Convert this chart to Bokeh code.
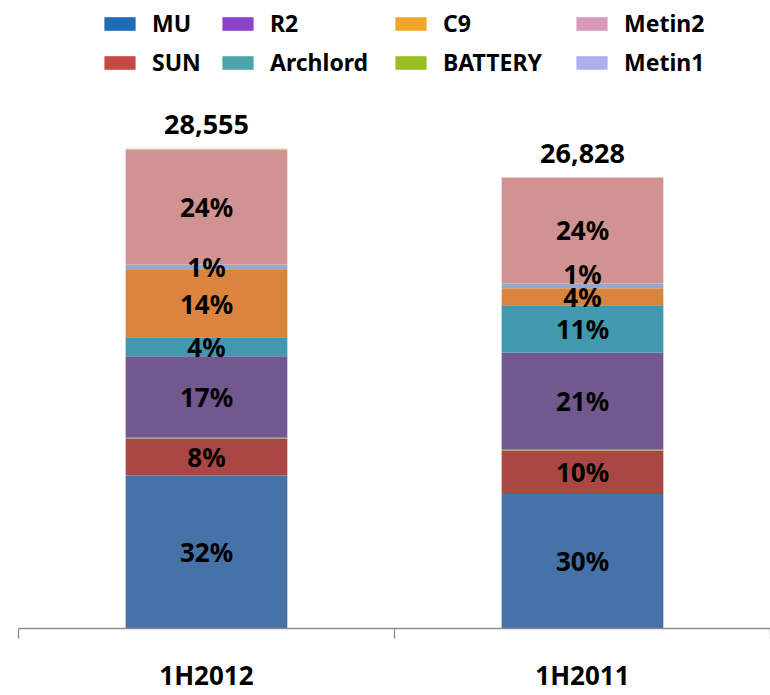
from bokeh.plotting import figure
from bokeh.models import (Range1d, LinearAxis, FixedTicker, Legend,
                          LegendItem, ColumnDataSource)
from bokeh.core.properties import value
from bokeh.embed import file_html
from bokeh.resources import INLINE

# ---------------- data ----------------
periods = ["1H2012", "1H2011"]
series = ["MU", "SUN", "BATTERY", "R2", "Archlord", "C9", "Metin1", "Metin2", "Etc"]
MU = [9100, 8000]
SUN = [2200, 2590]
BATTERY = [90, 90]
R2 = [4800, 5720]
Archlord = [1130, 2820]
C9 = [4000, 1010]
Metin1 = [330, 290]
Metin2 = [6845, 6308]
Etc = [60, 0]
total_labels = ["28,555", "26,828"]
pct_MU = ["32%", "30%"]
pct_SUN = ["8%", "10%"]
pct_BATTERY = ["", ""]
pct_R2 = ["17%", "21%"]
pct_Archlord = ["4%", "11%"]
pct_C9 = ["14%", "4%"]
pct_Metin1 = ["1%", "1%"]
pct_Metin2 = ["24%", "24%"]
pct_Etc = ["", ""]

bar_colors = ["#4572A7", "#AA4643", "#8FA24C", "#71588F", "#4198AF", "#DB843D",
              "#93A9CF", "#D19392", "#C3D69B"]
legend_columns = [["MU", "SUN"], ["R2", "Archlord"], ["C9", "BATTERY"],
                  ["Metin2", "Metin1"]]
legend_colors = {"MU": "#1F6CB8", "SUN": "#C84846", "R2": "#8D42C9",
                 "Archlord": "#4EA4AC", "C9": "#F0A629", "BATTERY": "#98BE23",
                 "Metin2": "#DA98B8", "Metin1": "#B0ACEE"}

values = dict(MU=MU, SUN=SUN, BATTERY=BATTERY, R2=R2, Archlord=Archlord, C9=C9,
              Metin1=Metin1, Metin2=Metin2, Etc=Etc)
pcts = dict(MU=pct_MU, SUN=pct_SUN, BATTERY=pct_BATTERY, R2=pct_R2,
            Archlord=pct_Archlord, C9=pct_C9, Metin1=pct_Metin1,
            Metin2=pct_Metin2, Etc=pct_Etc)

FONT = value("Noto Sans")
n = len(periods)
xpos = [i + 0.5 for i in range(n)]

W, H = 770, 695
TOP, BOTTOM = 0, 65
Y_END = 37350
frame_h = H - TOP - BOTTOM

p = figure(x_range=Range1d(0, n), y_range=Range1d(0, Y_END), title=None,
           width=W, height=H, output_backend="svg", toolbar_location=None,
           x_axis_location=None, y_axis_location=None,
           min_border_left=18, min_border_right=0, min_border_top=TOP,
           min_border_bottom=BOTTOM)
p.outline_line_color = None
p.xgrid.visible = False
p.ygrid.visible = False

src = ColumnDataSource(dict(x=xpos, **values))
p.vbar_stack(series, x="x", width=0.43, source=src,
             fill_color=bar_colors, line_color=None)

# percentage labels in segment centres, nudged apart when too close
gap = 23 * Y_END / frame_h
lx, ly, lt, loff = [], [], [], []
for i in range(n):
    base = 0
    prev = None
    for s in series:
        v = values[s][i]
        if pcts[s][i]:
            c = base + v / 2
            y = c if prev is None else max(c, prev + gap)
            lx.append(xpos[i])
            ly.append(c)
            loff.append(-(y - c) * frame_h / Y_END)
            lt.append(pcts[s][i])
            prev = y
        base += v
lsrc = ColumnDataSource(dict(x=lx, y=ly, t=lt, off=loff))
p.text(x="x", y="y", text="t", y_offset="off", source=lsrc, text_font=FONT,
       text_font_style="bold", text_font_size="26px", text_align="center",
       text_baseline="middle", text_color="black")

totals = [sum(values[s][i] for s in series) for i in range(n)]
p.text(x=xpos, y=totals, text=total_labels, text_font=FONT,
       text_font_style="bold", text_font_size="27px", text_align="center",
       text_baseline="alphabetic", y_offset=-24, text_color="black")

# bottom axis: boundary ticks, labels at category centres
ax = LinearAxis(ticker=FixedTicker(ticks=xpos, minor_ticks=list(range(n + 1))),
                major_label_overrides={xpos[i]: periods[i] for i in range(n)})
ax.axis_line_color = "#8C8C8C"
ax.axis_line_width = 1.3
ax.major_tick_line_color = None
ax.major_tick_out = 0
ax.major_tick_in = 0
ax.minor_tick_line_color = "#8C8C8C"
ax.minor_tick_line_width = 1.3
ax.minor_tick_out = 10
ax.minor_tick_in = 0
ax.major_label_standoff = 18
ax.major_label_text_font = "Noto Sans"
ax.major_label_text_font_style = "bold"
ax.major_label_text_font_size = "26px"
ax.major_label_text_color = "black"
p.add_layout(ax, "below")

# legend: four two-row columns
col_x = [82, 200, 373, 554]
nan = float("nan")
for cx, names in zip(col_x, legend_columns):
    items = []
    for name in names:
        col = legend_colors[name]
        r = p.vbar(x=[nan], top=[nan], width=0.1, fill_color=col, line_color=None)
        items.append(LegendItem(label=name, renderers=[r]))
    lg = Legend(items=items, orientation="vertical", location=(cx, 550),
                glyph_width=39, glyph_height=17, label_standoff=13,
                label_height=20, spacing=7, padding=0, margin=0,
                border_line_color=None, background_fill_alpha=0,
                label_text_font="Noto Sans", label_text_font_style="bold",
                label_text_font_size="23px", label_text_color="black")
    p.add_layout(lg, "center")

open("out.html", "w").write(file_html(p, INLINE))
